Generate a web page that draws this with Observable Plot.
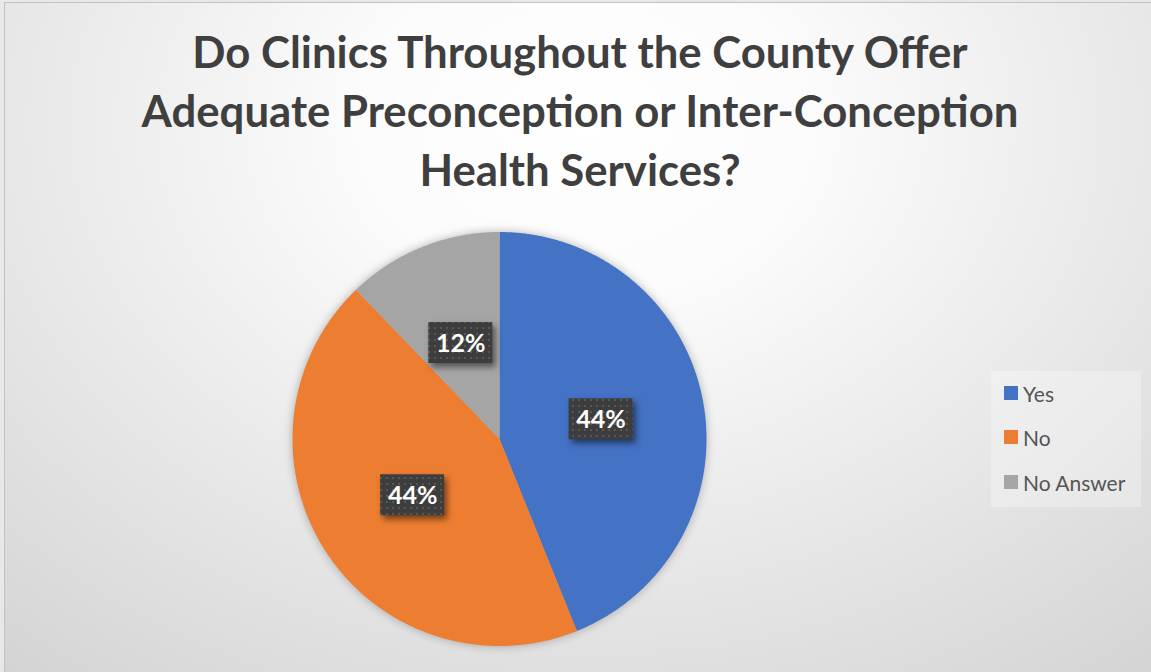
<!DOCTYPE html>
<html>
<head>
<meta charset="utf-8">
<script src="https://cdn.jsdelivr.net/npm/d3@7"></script>
<script src="https://cdn.jsdelivr.net/npm/@observablehq/plot@0.6"></script>
<style>
  html, body { margin: 0; padding: 0; background: #e8e8e8; }
  #frame {
    position: absolute; left: 4px; top: 2px; width: 1160px; height: 680px;
    border-left: 1px solid #c2c2c2; border-top: 1px solid #c2c2c2;
    background: radial-gradient(ellipse 80% 105% at 50% 18%, #ffffff 0%, #fbfbfb 25%, #d3d3d3 100%);
    overflow: hidden;
  }
  #title {
    position: absolute; left: -5px; top: 0; width: 1160px; height: 210px;
    text-align: center; font-family: Lato, "Open Sans", sans-serif; font-weight: bold;
    color: #3f3f3f; line-height: 59px; box-sizing: border-box;
  }
  #plot { position: absolute; left: -5px; top: 208px; }
  #legend {
    position: absolute; left: 986px; top: 368px; width: 150px; height: 136px;
    background: rgba(255,255,255,0.28);
    font-family: Lato, "Open Sans", sans-serif; font-size: 21px; color: #555555;
  }
  .item { position: absolute; left: 13px; height: 24px; display: flex; align-items: center; }
  .sw { width: 14px; height: 14px; margin-right: 5px; }
</style>
</head>
<body>
<div id="frame">
  <div id="title"></div>
  <div id="plot"></div>
  <div id="legend"></div>
</div>
<script>
const categories = ["Yes", "No", "No Answer"];
const counts = [18, 18, 5];
const colors = ["#4472C4", "#ED7D31", "#A5A5A5"];
const titleLines = ["Do Clinics Throughout the County Offer", "Adequate Preconception or Inter-Conception", "Health Services?"];

// Title (fit font to reference width of first line)
const titleFont = "Lato, 'Open Sans', sans-serif";
const cv = document.createElement("canvas").getContext("2d");
cv.font = `bold 42px ${titleFont}`;
let fs = 42 * 778 / cv.measureText(titleLines[0]).width;
fs = Math.max(36, Math.min(46, fs));
const titleEl = document.getElementById("title");
titleEl.style.fontSize = fs + "px";
titleEl.style.paddingTop = (65 - ((59 - 1.2 * fs) / 2 + 0.987 * fs)) + "px";
titleEl.innerHTML = titleLines.map(t => `<div>${t}</div>`).join("");

// Pie geometry
const W = 1160, H = 464;
const R = 207, cx = 499, cy = 227.5; // pixel center within svg
const total = d3.sum(counts);
const arcs = d3.pie().sort(null)(counts);
const slicePts = [];
arcs.forEach((a, i) => {
  slicePts.push({cat: categories[i], x: 0, y: 0});
  const n = Math.max(2, Math.ceil((a.endAngle - a.startAngle) / 0.005));
  for (let k = 0; k <= n; k++) {
    const t = a.startAngle + (a.endAngle - a.startAngle) * k / n;
    slicePts.push({cat: categories[i], x: Math.sin(t), y: Math.cos(t)});
  }
});
const hw = 32 / R, hh = 20.5 / R;
const labels = arcs.map((a, i) => {
  const m = (a.startAngle + a.endAngle) / 2;
  const x = 0.5 * Math.sin(m), y = 0.5 * Math.cos(m);
  return {cat: categories[i], x, y, x1: x - hw, x2: x + hw, y1: y - hh, y2: y + hh,
          text: Math.round(counts[i] / total * 100) + "%"};
});

const chart = Plot.plot({
  width: W, height: H, margin: 0,
  style: {background: "transparent", overflow: "visible"},
  x: {domain: [-cx / R, (W - cx) / R], range: [0, W], axis: null},
  y: {domain: [-(H - cy) / R, cy / R], range: [H, 0], axis: null},
  color: {domain: categories, range: colors},
  marks: [
    Plot.line(slicePts, {x: "x", y: "y", z: "cat", fill: "cat", stroke: "none", curve: "linear-closed"}),
    Plot.rect(labels, {x1: "x1", x2: "x2", y1: "y1", y2: "y2", fill: "url(#dotpat)"}),
    Plot.text(labels, {x: "x", y: "y", text: "text", fill: "white", fontSize: 25, fontWeight: "bold",
                       fontFamily: titleFont, dy: 1})
  ]
});
d3.select(chart).insert("defs", ":first-child").html(
  `<pattern id="dotpat" width="6" height="6" patternUnits="userSpaceOnUse">
     <rect width="6" height="6" fill="#3d3d3d"/>
     <rect x="2" y="2" width="2" height="2" fill="#585858"/>
   </pattern>`);
d3.select(chart).selectAll('g[aria-label="line"]').style("filter", "drop-shadow(0px 0px 5px rgba(0,0,0,0.28))");
d3.select(chart).selectAll('g[aria-label="rect"] rect').style("filter", "drop-shadow(3px 4px 3px rgba(0,0,0,0.5))");
document.getElementById("plot").appendChild(chart);

// Legend
const leg = document.getElementById("legend");
const rowY = [10, 54, 99];
categories.forEach((c, i) => {
  const d = document.createElement("div");
  d.className = "item";
  d.style.top = rowY[i] + "px";
  d.innerHTML = `<span class="sw" style="background:${colors[i]}"></span><span>${c}</span>`;
  leg.appendChild(d);
});
</script>
</body>
</html>
